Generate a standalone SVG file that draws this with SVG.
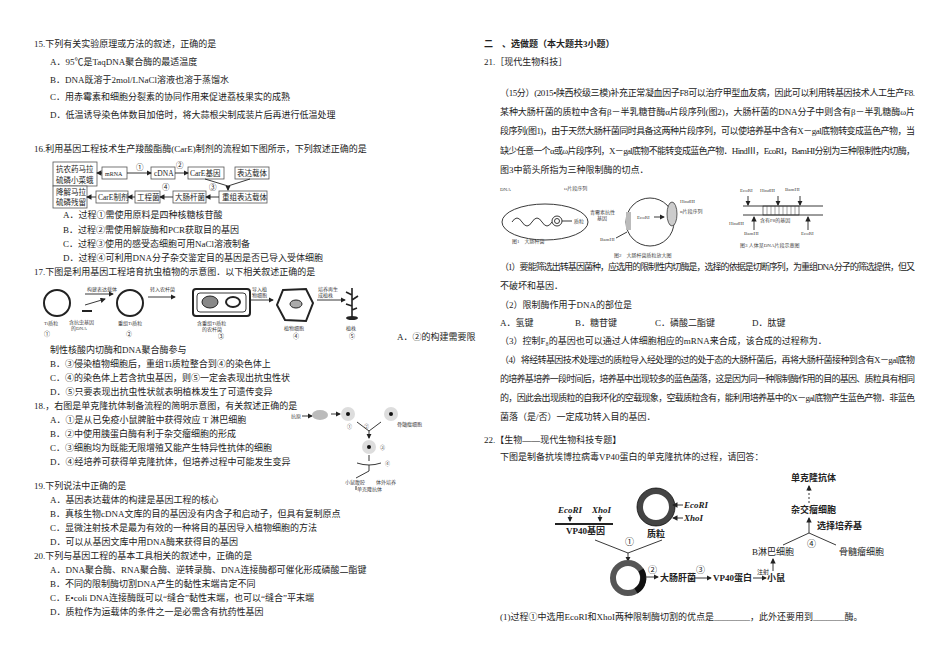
<svg xmlns="http://www.w3.org/2000/svg" width="950" height="672" viewBox="0 0 950 672">
<style>
text{font-family:"Liberation Serif","Noto Sans CJK SC",serif;font-size:9px;fill:#222}
.s{font-size:6px}
.f{font-size:7.5px}
.xs{font-size:5px;fill:#444}
.b{font-weight:bold}
.bx{fill:#fff;stroke:#555;stroke-width:0.8}
.ln{stroke:#222;stroke-width:0.9;fill:none}
.th{stroke:#222;stroke-width:2;fill:none}
</style>
<defs>
<marker id="a" markerWidth="6" markerHeight="6" refX="5" refY="3" orient="auto"><path d="M0,0 L6,3 L0,6 z" fill="#222"/></marker>
</defs>
<rect width="950" height="672" fill="#fff"/>
<g id="left">
<text x="34" y="47">15.下列有关实验原理或方法的叙述，正确的是</text>
<text x="50" y="65">A．95℃是TaqDNA聚合酶的最适温度</text>
<text x="50" y="83">B．DNA既溶于2mol/LNaCl溶液也溶于蒸馏水</text>
<text x="50" y="100">C．用赤霉素和细胞分裂素的协同作用来促进荔枝果实的成熟</text>
<text x="50" y="118">D．低温诱导染色体数目加倍时，将大蒜根尖制成装片后再进行低温处理</text>
<text x="34" y="152">16.利用基因工程技术生产羧酸酯酶(CarE)制剂的流程如下图所示，下列叙述正确的是</text>
</g>
<g id="fig16">
<rect class="bx" x="53" y="162" width="44" height="24"/><text x="56" y="172" class="f">抗农药马拉</text><text x="56" y="183" class="f">硫磷小菜蛾</text>
<rect class="bx" x="102" y="167" width="25" height="12"/><text x="105" y="176" class="s">mRNA</text>
<rect class="bx" x="151" y="167" width="24" height="12"/><text x="154" y="176" class="f">cDNA</text>
<rect class="bx" x="188" y="167" width="36" height="12"/><text x="190" y="176" class="f">CarE基因</text>
<rect class="bx" x="235" y="167" width="34" height="12"/><text x="237" y="176" class="f">表达载体</text>
<rect class="bx" x="53" y="186" width="34" height="22"/><text x="56" y="195" class="f">降解马拉</text><text x="56" y="205" class="f">硫磷残留</text>
<rect class="bx" x="96" y="191" width="32" height="12"/><text x="98" y="200" class="f">CarE制剂</text>
<rect class="bx" x="135" y="191" width="25" height="12"/><text x="137" y="200" class="f">工程菌</text>
<rect class="bx" x="173" y="191" width="33" height="12"/><text x="175" y="200" class="f">大肠杆菌</text>
<rect class="bx" x="219" y="191" width="48" height="12"/><text x="222" y="200" class="f">重组表达载体</text>
<text x="136" y="170" class="f">①</text><text x="176" y="168" class="f">②</text><text x="209" y="190" class="f">③</text><text x="162" y="190" class="f">④</text>
</g>
<g id="conn16">
<line class="ln" x1="102" y1="173" x2="97" y2="173" marker-end="url(#a)"/>
<line class="ln" x1="127" y1="173" x2="151" y2="173" marker-end="url(#a)"/>
<line class="ln" x1="175" y1="173" x2="188" y2="173" marker-end="url(#a)"/>
<polyline class="ln" points="205,179 228,186"/><polyline class="ln" points="250,179 228,186"/>
<line class="ln" x1="228" y1="186" x2="228" y2="190" marker-end="url(#a)"/>
<line class="ln" x1="219" y1="197" x2="206" y2="197" marker-end="url(#a)"/>
<line class="ln" x1="173" y1="197" x2="160" y2="197" marker-end="url(#a)"/>
<line class="ln" x1="135" y1="197" x2="128" y2="197" marker-end="url(#a)"/>
<line class="ln" x1="96" y1="197" x2="87" y2="197" marker-end="url(#a)"/>
</g>
<g id="left2">
<text x="63" y="218">A．过程①需使用原料是四种核糖核苷酸</text>
<text x="63" y="233">B．过程②需使用解旋酶和PCR获取目的基因</text>
<text x="63" y="247">C．过程③使用的感受态细胞可用NaCl溶液制备</text>
<text x="63" y="261">D．过程④可利用DNA分子杂交鉴定目的基因是否已导入受体细胞</text>
<text x="34" y="275">17.下图是利用基因工程培育抗虫植物的示意图．以下相关叙述正确的是</text>
</g>
<g id="fig17">
<circle cx="57" cy="303" r="13" class="th" stroke-width="3"/>
<circle cx="130" cy="303" r="13" class="th" stroke-width="2.5"/>
<text x="87" y="291" class="xs">构建表达载体</text>
<line class="ln" x1="85" y1="294" x2="113" y2="294" marker-end="url(#a)"/>
<line class="ln" x1="85" y1="305" x2="105" y2="299" marker-end="url(#a)"/>
<path d="M82,311 h10" stroke="#222" stroke-width="2"/>
<text x="150" y="291" class="xs">转入农杆菌</text>
<line class="ln" x1="148" y1="297" x2="175" y2="297" marker-end="url(#a)"/>
<rect x="193" y="289" width="57" height="27" rx="3" fill="#fff" stroke="#222" stroke-width="2"/>
<rect x="197" y="293" width="49" height="19" rx="3" class="ln"/>
<ellipse cx="210" cy="302" rx="8" ry="6" fill="#888" stroke="#222"/>
<ellipse cx="233" cy="302" rx="7" ry="5" class="th" stroke-width="1.5"/>
<text x="252" y="291" class="xs">导入植</text><text x="252" y="297" class="xs">物细胞</text>
<line class="ln" x1="251" y1="300" x2="273" y2="300" marker-end="url(#a)"/>
<polygon points="283,290 306,289 313,303 306,321 285,320 277,305" fill="#fff" stroke="#222" stroke-width="2"/>
<ellipse cx="296" cy="304" rx="6" ry="4" fill="#aaa" stroke="#222"/>
<text x="318" y="291" class="xs">培养再生</text><text x="318" y="297" class="xs">成植株</text>
<line class="ln" x1="317" y1="300" x2="345" y2="300" marker-end="url(#a)"/>
<path d="M352,318 V288 M352,295 l-6,-3 M352,300 l6,-4 M352,306 l-6,-2 M352,310 l5,-2" stroke="#222" stroke-width="1.6" fill="none"/>
<ellipse cx="352" cy="318" rx="6" ry="2" fill="#222"/>
<text x="44" y="325" class="xs">Ti质粒</text><text x="44" y="336" class="s">①</text>
<text x="69" y="324" class="xs">含抗虫基因</text><text x="71" y="330" class="xs">的DNA</text>
<text x="118" y="325" class="xs">重组Ti质粒</text><text x="126" y="336" class="s">②</text>
<text x="197" y="325" class="xs">含重组Ti质粒</text><text x="202" y="331" class="xs">的农杆菌</text><text x="218" y="338" class="s">③</text>
<text x="284" y="330" class="xs">植物细胞</text><text x="293" y="338" class="s">④</text>
<text x="346" y="330" class="xs">植株</text><text x="349" y="338" class="s">⑤</text>
</g>
<g id="left3">
<text x="397" y="340">A．②的构建需要限</text>
<text x="50" y="353">制性核酸内切酶和DNA聚合酶参与</text>
<text x="50" y="367">B．③侵染植物细胞后，重组Ti质粒整合到④的染色体上</text>
<text x="50" y="381">C．④的染色体上若含抗虫基因，则⑤一定会表现出抗虫性状</text>
<text x="50" y="395">D．⑤只要表现出抗虫性状就表明植株发生了可遗传变异</text>
<text x="34" y="409">18.，右图是单克隆抗体制备流程的简明示意图，有关叙述正确的是</text>
<text x="50" y="423">A．①是从已免疫小鼠脾脏中获得效应 T 淋巴细胞</text>
<text x="50" y="437">B．②中使用胰蛋白酶有利于杂交瘤细胞的形成</text>
<text x="50" y="451">C．③细胞均为既能无限增殖又能产生特异性抗体的细胞</text>
<text x="50" y="465">D．④经培养可获得单克隆抗体，但培养过程中可能发生变异</text>
</g>
<g id="fig18">
<text x="291" y="418" class="xs">抗原</text>
<line class="ln" x1="302" y1="416" x2="312" y2="416" marker-end="url(#a)"/>
<ellipse cx="320" cy="415" rx="8" ry="5" fill="#bbb"/>
<line class="ln" x1="331" y1="414" x2="340" y2="414" marker-end="url(#a)"/>
<circle cx="348" cy="414" r="7" fill="#ddd"/><circle cx="348" cy="414" r="2" fill="#111"/>
<circle cx="391" cy="414" r="7" fill="#ddd"/><circle cx="391" cy="414" r="2" fill="#111"/>
<text x="347" y="428" class="xs">①</text><text x="397" y="426" class="xs">骨髓瘤细胞</text>
<polyline class="ln" points="357,422 369,431 381,422"/>
<text x="364" y="428" class="xs">②</text>
<line class="ln" x1="369" y1="431" x2="369" y2="438" marker-end="url(#a)"/>
<circle cx="369" cy="447" r="7" fill="#ddd"/><circle cx="369" cy="447" r="2" fill="#111"/>
<text x="380" y="449" class="xs">③</text>
<line class="ln" x1="369" y1="455" x2="369" y2="461"/>
<path d="M357,463 q12,4 24,0" class="ln"/><text x="385" y="465" class="xs">④</text>
<polyline class="ln" points="369,465 369,471 356,478 M369,471 382,478"/>
<text x="345" y="484" class="xs">小鼠腹腔</text><text x="376" y="484" class="xs">体外培养</text>
<polyline class="ln" points="356,486 356,490 M382,486 382,490"/>
<text x="357" y="491" class="xs">单克隆抗体</text>
</g>
<g id="left4">
<text x="34" y="489">19.下列说法中正确的是</text>
<text x="50" y="503">A．基因表达载体的构建是基因工程的核心</text>
<text x="50" y="517">B．真核生物cDNA文库的目的基因没有内含子和启动子，但具有复制原点</text>
<text x="50" y="531">C．显微注射技术是最为有效的一种将目的基因导入植物细胞的方法</text>
<text x="50" y="545">D．可以从基因文库中用DNA酶来获得目的基因</text>
<text x="34" y="559">20.下列与基因工程的基本工具相关的叙述中，正确的是</text>
<text x="50" y="573">A．DNA聚合酶、RNA聚合酶、逆转录酶、DNA连接酶都可催化形成磷酸二酯键</text>
<text x="50" y="587">B．不同的限制酶切割DNA产生的黏性末端肯定不同</text>
<text x="50" y="601">C．E•coli DNA连接酶既可以“缝合”黏性末端，也可以“缝合”平末端</text>
<text x="50" y="615">D．质粒作为运载体的条件之一是必需含有抗药性基因</text>
</g>
<g id="right">
<text x="484" y="47" class="b">二　、选做题（本大题共3小题）</text>
<text x="484" y="65">21.［现代生物科技］</text>
<text x="500" y="96" textLength="415">（15分）(2015•陕西校级三模)补充正常凝血因子F8可以治疗甲型血友病，因此可以利用转基因技术人工生产F8.</text>
<text x="500" y="115" textLength="415">某种大肠杆菌的质粒中含有β－半乳糖苷酶α片段序列(图2)，大肠杆菌的DNA分子中则含有β－半乳糖酶ω片</text>
<text x="500" y="134" textLength="415">段序列(图1)，由于天然大肠杆菌同时具备这两种片段序列，可以使培养基中含有X－gal底物转变成蓝色产物，当</text>
<text x="500" y="154" textLength="415">缺少任意一个α或ω片段序列，X－gal底物不能转变成蓝色产物．HindⅢ，EcoRI，BamHI分别为三种限制性内切酶，</text>
<text x="500" y="173">图3中箭头所指为三种限制酶的切点．</text>
</g>
<g id="fig21">
<text x="500" y="191" class="xs">DNA</text><text x="564" y="190" class="xs">ω片段序列</text>
<ellipse cx="545" cy="222" rx="43" ry="18" class="ln"/>
<path d="M512,222 q5,-8 10,0 t10,0 t10,0 t10,0" class="ln"/>
<circle cx="557" cy="221" r="5" class="ln"/><circle cx="557" cy="221" r="2.5" class="ln"/>
<line class="ln" x1="562" y1="221" x2="572" y2="221"/><text x="574" y="223" class="xs">质粒</text>
<text x="512" y="243" class="xs">图1　大肠杆菌</text>
<text x="590" y="214" class="xs">青霉素抗性</text><text x="597" y="220" class="xs">基因</text>
<circle cx="650" cy="222" r="24" class="ln" stroke-width="2"/>
<rect x="626" y="212" width="5" height="18" fill="#bbb"/>
<ellipse cx="672" cy="214" rx="5" ry="12" fill="#ccc" stroke="#222" stroke-width="0.7"/>
<text x="637" y="219" class="xs">EcoRI</text><line class="ln" x1="654" y1="217" x2="664" y2="217" marker-end="url(#a)"/>
<text x="680" y="203" class="xs">HindIII</text><text x="680" y="213" class="xs">α片段序列</text>
<text x="600" y="241" class="xs">BamHI</text><line class="ln" x1="616" y1="238" x2="627" y2="232"/>
<text x="614" y="257" class="xs">图2　大肠杆菌质粒放大图</text>
<text x="740" y="192" class="xs">EcoRI</text><text x="760" y="192" class="xs">HindIII</text><text x="785" y="191" class="xs">BamHI</text>
<line class="ln" x1="743" y1="206" x2="823" y2="206"/><line class="ln" x1="743" y1="215" x2="823" y2="215"/>
<rect x="763" y="206" width="36" height="9" fill="none" stroke="#222" stroke-width="0.6"/>
<path d="M767,206v9M771,206v9M775,206v9M779,206v9M783,206v9M787,206v9M791,206v9M795,206v9" stroke="#444" stroke-width="0.5"/>
<line class="ln" x1="748" y1="196" x2="748" y2="205" marker-end="url(#a)"/>
<line class="ln" x1="778" y1="196" x2="778" y2="205" marker-end="url(#a)"/>
<line class="ln" x1="800" y1="196" x2="800" y2="205" marker-end="url(#a)"/>
<line class="ln" x1="754" y1="230" x2="754" y2="217" marker-end="url(#a)"/>
<line class="ln" x1="808" y1="230" x2="808" y2="217" marker-end="url(#a)"/>
<text x="729" y="225" class="xs">HindIII</text><text x="760" y="222" class="xs">含有F8的基因</text>
<text x="744" y="235" class="xs">BamHI</text><text x="801" y="235" class="xs">EcoRI</text>
<text x="740" y="247" class="xs">图3 人体某DNA片段示意图</text>
</g>
<g id="right2">
<text x="500" y="270" textLength="415">（1）要能筛选出转基因菌种，应选用的限制性内切酶是，选择的依据是切断序列，为重组DNA分子的筛选提供，但又</text>
<text x="500" y="289">不破坏和基因．</text>
<text x="500" y="308">（2）限制酶作用于DNA的部位是</text>
<text x="500" y="326">A．氢键</text><text x="575" y="326">B．糖苷键</text><text x="655" y="326">C．磷酸二酯键</text><text x="752" y="326">D．肽键</text>
<text x="500" y="344">（3）控制F₈的基因也可以通过人体细胞相应的mRNA来合成，该合成的过程称为．</text>
<text x="500" y="363" textLength="415">（4）将经转基因技术处理过的质粒导入经处理的过的处于态的大肠杆菌后，再将大肠杆菌接种到含有X－gal底物</text>
<text x="500" y="382" textLength="415">的培养基培养一段时间后，培养基中出现较多的蓝色菌落，这是因为同一种限制酶作用的目的基因、质粒具有相同</text>
<text x="500" y="401" textLength="415">的，因此会出现质粒的自我环化的空载现象，空载质粒含有，能利用培养基中的X－gal底物产生蓝色产物．非蓝色</text>
<text x="500" y="420">菌落（是/否）一定成功转入目的基因．</text>
<text x="484" y="443">22.【生物——现代生物科技专题】</text>
<text x="500" y="460">下图是制备抗埃博拉病毒VP40蛋白的单克隆抗体的过程，请回答：</text>
</g>
<g id="fig22">
<text x="558" y="513" font-style="italic" class="b">EcoRI</text><text x="592" y="513" font-style="italic" class="b">XhoI</text>
<line class="ln" x1="570" y1="515" x2="570" y2="521" marker-end="url(#a)"/>
<line class="ln" x1="600" y1="515" x2="600" y2="521" marker-end="url(#a)"/>
<line x1="555" y1="524" x2="613" y2="524" stroke="#222" stroke-width="1.8"/>
<text x="566" y="534" class="b">VP40基因</text>
<circle cx="656" cy="507" r="16" fill="none" stroke="#444" stroke-width="6"/>
<circle cx="656" cy="507" r="19" fill="none" stroke="#111" stroke-width="0.8"/>
<line class="ln" x1="683" y1="505" x2="673" y2="505" marker-end="url(#a)"/>
<line class="ln" x1="683" y1="518" x2="673" y2="518" marker-end="url(#a)"/>
<text x="684" y="508" font-style="italic" class="b">EcoRI</text><text x="684" y="521" font-style="italic" class="b">XhoI</text>
<text x="647" y="537" class="b">质粒</text>
<polyline class="ln" points="595,540 628,553 662,540"/>
<text x="625" y="545">①</text>
<line class="ln" x1="628" y1="553" x2="628" y2="561" marker-end="url(#a)"/>
<circle cx="628" cy="578" r="15" fill="none" stroke="#555" stroke-width="6"/>
<path d="M641,570 A15,15 0 0 1 636,591" fill="none" stroke="#111" stroke-width="6"/>
<text x="648" y="573">②</text>
<line class="ln" x1="645" y1="577" x2="658" y2="577" marker-end="url(#a)"/>
<text x="660" y="581" class="b">大肠肝菌</text>
<text x="696" y="573">③</text>
<line class="ln" x1="694" y1="578" x2="711" y2="578" marker-end="url(#a)"/>
<text x="713" y="581" class="b">VP40蛋白</text>
<text x="757" y="574" class="s">注射</text>
<line class="ln" x1="753" y1="578" x2="766" y2="578" marker-end="url(#a)"/>
<text x="767" y="581" class="b">小鼠</text>
<line class="ln" x1="773" y1="571" x2="773" y2="559" marker-end="url(#a)"/>
<text x="752" y="555">B淋巴细胞</text>
<text x="839" y="555">骨髓瘤细胞</text>
<polyline class="ln" points="783,545 809,533 836,545"/>
<text x="807" y="547">④</text>
<line class="ln" x1="809" y1="533" x2="809" y2="518" marker-end="url(#a)"/>
<text x="817" y="529" class="b">选择培养基</text>
<text x="791" y="513" class="b">杂交瘤细胞</text>
<line class="ln" x1="809" y1="503" x2="809" y2="486" stroke-dasharray="2,2" marker-end="url(#a)"/>
<text x="791" y="481" class="b">单克隆抗体</text>
</g>
<text x="500" y="620">(1)过程①中选用EcoRI和XhoI两种限制酶切割的优点是________，此外还要用到_______酶。</text>
</svg>
